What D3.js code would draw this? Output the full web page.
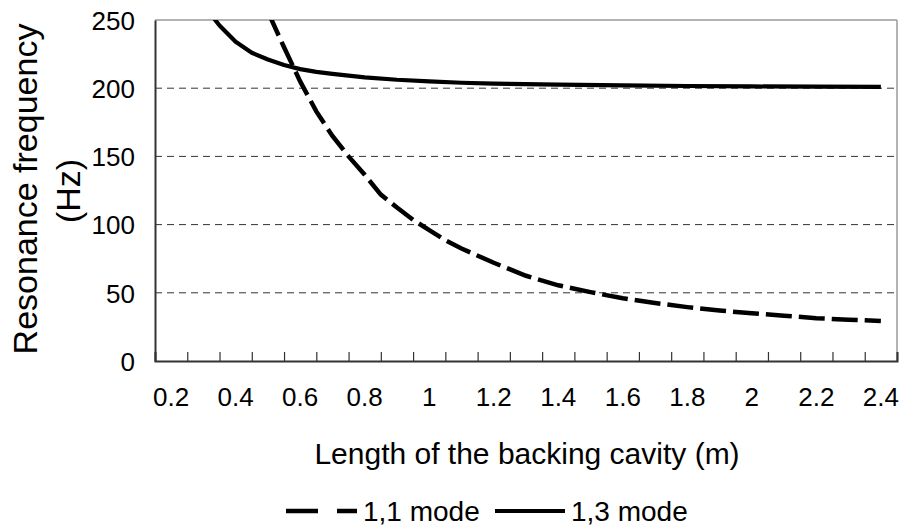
<!DOCTYPE html>
<html>
<head>
<meta charset="utf-8">
<script src="https://cdn.jsdelivr.net/npm/d3@7/dist/d3.min.js"></script>
<style>
  html, body { margin: 0; padding: 0; background: #fff; }
  svg { display: block; font-family: "Liberation Sans", Arial, sans-serif; }
</style>
</head>
<body>
<svg id="chart" width="904" height="529"></svg>
<script>
// ---- data ----
const length11 = [0.50,0.55,0.60,0.65,0.70,0.75,0.80,0.85,0.90,0.95,1.00,1.05,1.10,1.20,1.30,1.40,1.50,1.60,1.70,1.80,1.90,2.00,2.10,2.20,2.30,2.40];
const freq11   = [256, 230, 205, 183, 165, 150, 136.5,122,112.5,103.5,96, 88.5, 82.5, 72, 62.5, 55.5, 50.5, 46, 42.5, 39.5, 37, 35, 33.2, 31.4, 30.3, 29.3];
const length13 = [0.30,0.35,0.40,0.45,0.50,0.55,0.60,0.65,0.70,0.80,0.90,1.00,1.10,1.20,1.40,1.60,1.80,2.00,2.20,2.40];
const freq13   = [261, 246, 234, 226, 221, 217, 214, 212, 210.5,208,206.2,205,204,203.4,202.6,202,201.6,201.3,201.1,201];
const xTickLabels = [0.2,0.4,0.6,0.8,1,1.2,1.4,1.6,1.8,2,2.2,2.4];
const yTicks = [0,50,100,150,200,250];
const seriesNames = ["1,1 mode", "1,3 mode"];

// ---- layout ----
const svg = d3.select("#chart");
const L = 155, R = 897, T = 20, B = 361;

const x = d3.scaleLinear().domain([0.15, 2.45]).range([L, R]);
const y = d3.scaleLinear().domain([0, 250]).range([B, T]);

// gridlines
svg.append("g").selectAll("line").data(yTicks.filter(v => v > 0 && v < 250)).join("line")
  .attr("x1", L).attr("x2", R)
  .attr("y1", d => y(d)).attr("y2", d => y(d))
  .attr("stroke", "#333").attr("stroke-width", 1)
  .attr("stroke-dasharray", "7,5");

// top and right border (gray)
svg.append("line").attr("x1", L).attr("x2", R).attr("y1", T).attr("y2", T)
  .attr("stroke", "#9a9a9a").attr("stroke-width", 1.5);
svg.append("line").attr("x1", R).attr("x2", R).attr("y1", T).attr("y2", B)
  .attr("stroke", "#9a9a9a").attr("stroke-width", 1.5);

// clip for series
svg.append("clipPath").attr("id", "plotclip").append("rect")
  .attr("x", L).attr("y", T).attr("width", R - L).attr("height", B - T);

const line = d3.line().x(d => x(d[0])).y(d => y(d[1]));
const data11 = length11.map((l, i) => [l, freq11[i]]);
const data13 = length13.map((l, i) => [l, freq13[i]]);

const gSeries = svg.append("g").attr("clip-path", "url(#plotclip)");
gSeries.append("path").datum(data13).attr("d", line)
  .attr("fill", "none").attr("stroke", "#000").attr("stroke-width", 4.2)
  .attr("stroke-linejoin", "round");
gSeries.append("path").datum(data11).attr("d", line)
  .attr("fill", "none").attr("stroke", "#000").attr("stroke-width", 4.5)
  .attr("stroke-dasharray", "26,7");

// x axis: minor category ticks every 0.1 at boundaries, labels at 0.2 steps
const tickPos = d3.range(0, 24).map(i => 0.15 + i * 0.1);
const xAxis = d3.axisBottom(x).tickValues(tickPos).tickSize(-9).tickFormat("");
const gx = svg.append("g").attr("transform", `translate(0,${B})`).call(xAxis);
gx.select(".domain").attr("stroke", "#333").attr("stroke-width", 2);
gx.selectAll(".tick line").attr("stroke", "#333").attr("stroke-width", 1.2);

svg.append("g").selectAll("text").data(xTickLabels).join("text")
  .attr("x", d => x(d)).attr("y", 406)
  .attr("text-anchor", "middle").attr("font-size", 26).attr("fill", "#000")
  .text(d => String(d));

// y axis
const yAxis = d3.axisLeft(y).tickValues(yTicks).tickSize(0).tickFormat(d => d);
const gy = svg.append("g").attr("transform", `translate(${L},0)`).call(yAxis);
gy.select(".domain").attr("stroke", "#333").attr("stroke-width", 2);
gy.selectAll(".tick text").attr("x", -20).attr("font-size", 26)
  .attr("fill", "#000").attr("font-family", "Liberation Sans, Arial, sans-serif")
  .attr("dy", "0.36em");

// axis titles
svg.append("text").attr("x", 527).attr("y", 464).attr("text-anchor", "middle")
  .attr("font-size", 30).text("Length of the backing cavity (m)");
svg.append("text").attr("transform", "translate(37,189) rotate(-90)")
  .attr("text-anchor", "middle").attr("font-size", 34).text("Resonance frequency");
svg.append("text").attr("transform", "translate(80,191) rotate(-90)")
  .attr("text-anchor", "middle").attr("font-size", 34).text("(Hz)");

// legend
const ly = 511;
svg.append("line").attr("x1", 286).attr("x2", 357).attr("y1", ly).attr("y2", ly)
  .attr("stroke", "#000").attr("stroke-width", 4.5).attr("stroke-dasharray", "32,19");
svg.append("text").attr("x", 363).attr("y", ly + 10).attr("font-size", 28).text(seriesNames[0]);
svg.append("line").attr("x1", 495).attr("x2", 565).attr("y1", ly).attr("y2", ly)
  .attr("stroke", "#000").attr("stroke-width", 4.2);
svg.append("text").attr("x", 571).attr("y", ly + 10).attr("font-size", 28).text(seriesNames[1]);
</script>
</body>
</html>
